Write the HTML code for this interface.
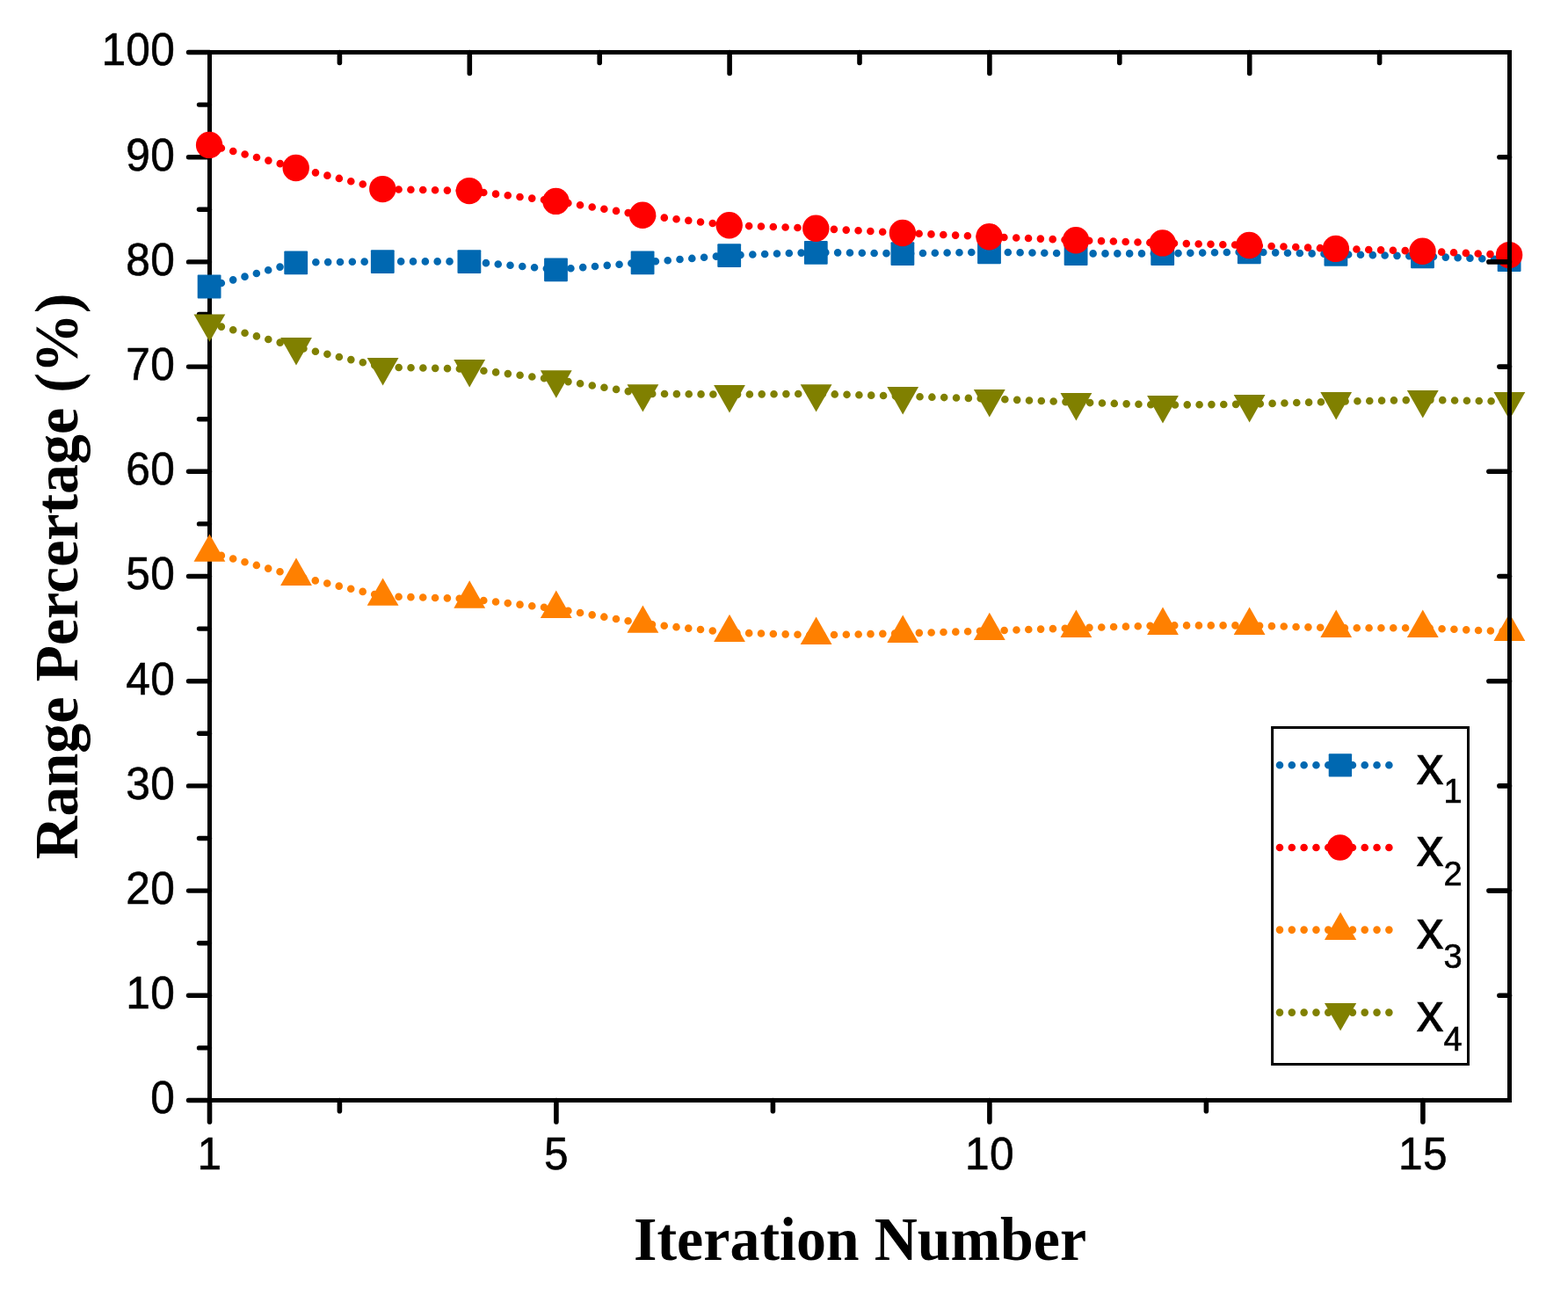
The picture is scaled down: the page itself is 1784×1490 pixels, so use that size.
<!DOCTYPE html>
<html lang="en"><head><meta charset="utf-8"><title>Range Percertage vs Iteration Number</title>
<style>html,body{margin:0;padding:0;background:#fff;}body{width:1784px;height:1490px;overflow:hidden;}svg{display:block;}.t{font-family:"Liberation Sans",sans-serif;font-size:49.6px;letter-spacing:0.25px;fill:#000;stroke:#000;stroke-width:0.55px;}.ax{font-family:"Liberation Serif",serif;font-weight:bold;font-size:67.95px;fill:#000;}.lg{font-family:"Liberation Sans",sans-serif;font-size:62.2px;fill:#000;stroke:#000;stroke-width:0.6px;}.sub{font-size:38px;}</style></head><body>
<svg width="1784" height="1490" viewBox="0 0 1784 1490">
<rect x="0" y="0" width="1784" height="1490" fill="#ffffff"/>
<g stroke="#000" stroke-width="5" fill="none" stroke-linecap="round">
<path stroke-linecap="square" d="M238.5 59.5 V1251.5 H1717.5"/>
<line stroke-width="5.4" x1="238.5" y1="1251.50" x2="214.5" y2="1251.50"/>
<line stroke-width="5.4" x1="238.5" y1="1191.90" x2="226.5" y2="1191.90"/>
<line stroke-width="5.4" x1="238.5" y1="1132.30" x2="214.5" y2="1132.30"/>
<line stroke-width="5.4" x1="238.5" y1="1072.70" x2="226.5" y2="1072.70"/>
<line stroke-width="5.4" x1="238.5" y1="1013.10" x2="214.5" y2="1013.10"/>
<line stroke-width="5.4" x1="238.5" y1="953.50" x2="226.5" y2="953.50"/>
<line stroke-width="5.4" x1="238.5" y1="893.90" x2="214.5" y2="893.90"/>
<line stroke-width="5.4" x1="238.5" y1="834.30" x2="226.5" y2="834.30"/>
<line stroke-width="5.4" x1="238.5" y1="774.70" x2="214.5" y2="774.70"/>
<line stroke-width="5.4" x1="238.5" y1="715.10" x2="226.5" y2="715.10"/>
<line stroke-width="5.4" x1="238.5" y1="655.50" x2="214.5" y2="655.50"/>
<line stroke-width="5.4" x1="238.5" y1="595.90" x2="226.5" y2="595.90"/>
<line stroke-width="5.4" x1="238.5" y1="536.30" x2="214.5" y2="536.30"/>
<line stroke-width="5.4" x1="238.5" y1="476.70" x2="226.5" y2="476.70"/>
<line stroke-width="5.4" x1="238.5" y1="417.10" x2="214.5" y2="417.10"/>
<line stroke-width="5.4" x1="238.5" y1="357.50" x2="226.5" y2="357.50"/>
<line stroke-width="5.4" x1="238.5" y1="297.90" x2="214.5" y2="297.90"/>
<line stroke-width="5.4" x1="238.5" y1="238.30" x2="226.5" y2="238.30"/>
<line stroke-width="5.4" x1="238.5" y1="178.70" x2="214.5" y2="178.70"/>
<line stroke-width="5.4" x1="238.5" y1="119.10" x2="226.5" y2="119.10"/>
<line stroke-width="5.4" x1="238.5" y1="59.50" x2="214.5" y2="59.50"/>
<line stroke-width="5.6" x1="238.50" y1="1251.5" x2="238.50" y2="1275.9"/>
<line stroke-width="5.6" x1="632.90" y1="1251.5" x2="632.90" y2="1275.9"/>
<line stroke-width="5.6" x1="1125.90" y1="1251.5" x2="1125.90" y2="1275.9"/>
<line stroke-width="5.6" x1="1618.90" y1="1251.5" x2="1618.90" y2="1275.9"/>
<line stroke-width="5.6" x1="386.40" y1="1251.5" x2="386.40" y2="1263.7"/>
<line stroke-width="5.6" x1="879.40" y1="1251.5" x2="879.40" y2="1263.7"/>
<line stroke-width="5.6" x1="1372.40" y1="1251.5" x2="1372.40" y2="1263.7"/>
</g>
<g>
<polyline points="238.5,325.7 337.1,298.5 435.7,297.4 534.3,297.4 632.9,306.6 731.5,298.5 830.1,290.4 928.7,287.0 1027.3,288.4 1125.9,286.6 1224.5,288.4 1323.1,288.4 1421.7,286.6 1520.3,289.1 1618.9,291.6 1717.5,295.4" fill="none" stroke="#0068b1" stroke-width="8.6" stroke-linecap="round" stroke-linejoin="round" stroke-dasharray="0 13.836"/>
<rect x="224.7" y="312.6" width="26.8" height="26.8" rx="1" fill="#0068b1"/>
<rect x="323.3" y="285.4" width="26.8" height="26.8" rx="1" fill="#0068b1"/>
<rect x="421.9" y="284.3" width="26.8" height="26.8" rx="1" fill="#0068b1"/>
<rect x="520.5" y="284.3" width="26.8" height="26.8" rx="1" fill="#0068b1"/>
<rect x="619.1" y="293.5" width="26.8" height="26.8" rx="1" fill="#0068b1"/>
<rect x="717.7" y="285.4" width="26.8" height="26.8" rx="1" fill="#0068b1"/>
<rect x="816.3" y="277.3" width="26.8" height="26.8" rx="1" fill="#0068b1"/>
<rect x="914.9" y="273.9" width="26.8" height="26.8" rx="1" fill="#0068b1"/>
<rect x="1013.5" y="275.3" width="26.8" height="26.8" rx="1" fill="#0068b1"/>
<rect x="1112.1" y="273.5" width="26.8" height="26.8" rx="1" fill="#0068b1"/>
<rect x="1210.7" y="275.3" width="26.8" height="26.8" rx="1" fill="#0068b1"/>
<rect x="1309.3" y="275.3" width="26.8" height="26.8" rx="1" fill="#0068b1"/>
<rect x="1407.9" y="273.5" width="26.8" height="26.8" rx="1" fill="#0068b1"/>
<rect x="1506.5" y="276.0" width="26.8" height="26.8" rx="1" fill="#0068b1"/>
<rect x="1605.1" y="278.5" width="26.8" height="26.8" rx="1" fill="#0068b1"/>
<rect x="1703.7" y="282.3" width="26.8" height="26.8" rx="1" fill="#0068b1"/>
<polyline points="238.5,164.9 337.1,191.0 435.7,215.1 534.3,217.1 632.9,228.9 731.5,244.8 830.1,256.3 928.7,259.8 1027.3,265.0 1125.9,269.3 1224.5,273.2 1323.1,276.4 1421.7,279.0 1520.3,282.9 1618.9,285.7 1717.5,290.1" fill="none" stroke="#ff0000" stroke-width="8.6" stroke-linecap="round" stroke-linejoin="round" stroke-dasharray="0 13.836"/>
<circle cx="238.1" cy="164.9" r="15.2" fill="#ff0000"/>
<circle cx="336.7" cy="191.0" r="15.2" fill="#ff0000"/>
<circle cx="435.3" cy="215.1" r="15.2" fill="#ff0000"/>
<circle cx="533.9" cy="217.1" r="15.2" fill="#ff0000"/>
<circle cx="632.5" cy="228.9" r="15.2" fill="#ff0000"/>
<circle cx="731.1" cy="244.8" r="15.2" fill="#ff0000"/>
<circle cx="829.7" cy="256.3" r="15.2" fill="#ff0000"/>
<circle cx="928.3" cy="259.8" r="15.2" fill="#ff0000"/>
<circle cx="1026.9" cy="265.0" r="15.2" fill="#ff0000"/>
<circle cx="1125.5" cy="269.3" r="15.2" fill="#ff0000"/>
<circle cx="1224.1" cy="273.2" r="15.2" fill="#ff0000"/>
<circle cx="1322.7" cy="276.4" r="15.2" fill="#ff0000"/>
<circle cx="1421.3" cy="279.0" r="15.2" fill="#ff0000"/>
<circle cx="1519.9" cy="282.9" r="15.2" fill="#ff0000"/>
<circle cx="1618.5" cy="285.7" r="15.2" fill="#ff0000"/>
<circle cx="1717.1" cy="290.1" r="15.2" fill="#ff0000"/>
<polyline points="238.5,628.2 337.1,655.4 435.7,678.2 534.3,681.1 632.9,692.4 731.5,709.2 830.1,719.5 928.7,722.4 1027.3,720.4 1125.9,717.5 1224.5,714.3 1323.1,711.4 1421.7,711.4 1520.3,714.3 1618.9,714.3 1717.5,718.4" fill="none" stroke="#ff8000" stroke-width="8.6" stroke-linecap="round" stroke-linejoin="round" stroke-dasharray="0 13.836"/>
<polygon points="220.5,638.8 256.3,638.8 238.4,607.4" fill="#ff8000"/>
<polygon points="319.1,666.0 354.9,666.0 337.0,634.6" fill="#ff8000"/>
<polygon points="417.7,688.8 453.5,688.8 435.6,657.4" fill="#ff8000"/>
<polygon points="516.3,691.7 552.1,691.7 534.2,660.3" fill="#ff8000"/>
<polygon points="614.9,703.0 650.7,703.0 632.8,671.6" fill="#ff8000"/>
<polygon points="713.5,719.8 749.3,719.8 731.4,688.4" fill="#ff8000"/>
<polygon points="812.1,730.1 847.9,730.1 830.0,698.7" fill="#ff8000"/>
<polygon points="910.7,733.0 946.5,733.0 928.6,701.6" fill="#ff8000"/>
<polygon points="1009.3,731.0 1045.1,731.0 1027.2,699.6" fill="#ff8000"/>
<polygon points="1107.9,728.1 1143.7,728.1 1125.8,696.7" fill="#ff8000"/>
<polygon points="1206.5,724.9 1242.3,724.9 1224.4,693.5" fill="#ff8000"/>
<polygon points="1305.1,722.0 1340.9,722.0 1323.0,690.6" fill="#ff8000"/>
<polygon points="1403.7,722.0 1439.5,722.0 1421.6,690.6" fill="#ff8000"/>
<polygon points="1502.3,724.9 1538.1,724.9 1520.2,693.5" fill="#ff8000"/>
<polygon points="1600.9,724.9 1636.7,724.9 1618.8,693.5" fill="#ff8000"/>
<polygon points="1699.5,729.0 1735.3,729.0 1717.4,697.6" fill="#ff8000"/>
<polyline points="238.5,368.0 337.1,394.6 435.7,417.6 534.3,419.7 632.9,431.9 731.5,447.8 830.1,448.7 928.7,447.8 1027.3,450.7 1125.9,453.6 1224.5,457.6 1323.1,460.6 1421.7,459.7 1520.3,456.7 1618.9,454.7 1717.5,456.7" fill="none" stroke="#808000" stroke-width="8.6" stroke-linecap="round" stroke-linejoin="round" stroke-dasharray="0 13.836"/>
<polygon points="220.5,357.4 256.3,357.4 238.4,388.8" fill="#808000"/>
<polygon points="319.1,384.0 354.9,384.0 337.0,415.4" fill="#808000"/>
<polygon points="417.7,407.0 453.5,407.0 435.6,438.4" fill="#808000"/>
<polygon points="516.3,409.1 552.1,409.1 534.2,440.5" fill="#808000"/>
<polygon points="614.9,421.3 650.7,421.3 632.8,452.7" fill="#808000"/>
<polygon points="713.5,437.2 749.3,437.2 731.4,468.6" fill="#808000"/>
<polygon points="812.1,438.1 847.9,438.1 830.0,469.5" fill="#808000"/>
<polygon points="910.7,437.2 946.5,437.2 928.6,468.6" fill="#808000"/>
<polygon points="1009.3,440.1 1045.1,440.1 1027.2,471.5" fill="#808000"/>
<polygon points="1107.9,443.0 1143.7,443.0 1125.8,474.4" fill="#808000"/>
<polygon points="1206.5,447.0 1242.3,447.0 1224.4,478.4" fill="#808000"/>
<polygon points="1305.1,450.0 1340.9,450.0 1323.0,481.4" fill="#808000"/>
<polygon points="1403.7,449.1 1439.5,449.1 1421.6,480.5" fill="#808000"/>
<polygon points="1502.3,446.1 1538.1,446.1 1520.2,477.5" fill="#808000"/>
<polygon points="1600.9,444.1 1636.7,444.1 1618.8,475.5" fill="#808000"/>
<polygon points="1699.5,446.1 1735.3,446.1 1717.4,477.5" fill="#808000"/>
</g>
<g stroke="#000" stroke-width="5" fill="none" stroke-linecap="round">
<path stroke-linecap="square" d="M238.5 59.5 H1717.5 V1251.5"/>
<line stroke-width="5.6" x1="534.30" y1="59.5" x2="534.30" y2="83.5"/>
<line stroke-width="5.6" x1="830.10" y1="59.5" x2="830.10" y2="83.5"/>
<line stroke-width="5.6" x1="1125.90" y1="59.5" x2="1125.90" y2="83.5"/>
<line stroke-width="5.6" x1="1421.70" y1="59.5" x2="1421.70" y2="83.5"/>
<line stroke-width="5.6" x1="386.40" y1="59.5" x2="386.40" y2="71.5"/>
<line stroke-width="5.6" x1="682.20" y1="59.5" x2="682.20" y2="71.5"/>
<line stroke-width="5.6" x1="978.00" y1="59.5" x2="978.00" y2="71.5"/>
<line stroke-width="5.6" x1="1273.80" y1="59.5" x2="1273.80" y2="71.5"/>
<line stroke-width="5.6" x1="1569.60" y1="59.5" x2="1569.60" y2="71.5"/>
<line stroke-width="5.6" x1="1717.5" y1="1132.30" x2="1705.9" y2="1132.30"/>
<line stroke-width="5.6" x1="1717.5" y1="1013.10" x2="1693.9" y2="1013.10"/>
<line stroke-width="5.6" x1="1717.5" y1="893.90" x2="1705.9" y2="893.90"/>
<line stroke-width="5.6" x1="1717.5" y1="774.70" x2="1693.9" y2="774.70"/>
<line stroke-width="5.6" x1="1717.5" y1="655.50" x2="1705.9" y2="655.50"/>
<line stroke-width="5.6" x1="1717.5" y1="536.30" x2="1693.9" y2="536.30"/>
<line stroke-width="5.6" x1="1717.5" y1="417.10" x2="1705.9" y2="417.10"/>
<line stroke-width="5.6" x1="1717.5" y1="297.90" x2="1693.9" y2="297.90"/>
<line stroke-width="5.6" x1="1717.5" y1="178.70" x2="1705.9" y2="178.70"/>
</g>
<g class="t" text-anchor="end">
<text transform="translate(199.0 1266.4) scale(1 1.05)">0</text>
<text transform="translate(199.0 1147.2) scale(1 1.05)">10</text>
<text transform="translate(199.0 1028.0) scale(1 1.05)">20</text>
<text transform="translate(199.0 908.8) scale(1 1.05)">30</text>
<text transform="translate(199.0 789.6) scale(1 1.05)">40</text>
<text transform="translate(199.0 670.4) scale(1 1.05)">50</text>
<text transform="translate(199.0 551.2) scale(1 1.05)">60</text>
<text transform="translate(199.0 432.0) scale(1 1.05)">70</text>
<text transform="translate(199.0 312.8) scale(1 1.05)">80</text>
<text transform="translate(199.0 193.6) scale(1 1.05)">90</text>
<text transform="translate(199.0 74.4) scale(1 1.05)">100</text>
</g>
<g class="t" text-anchor="middle">
<text transform="translate(238.5 1330.4) scale(1 1.05)">1</text>
<text transform="translate(632.9 1330.4) scale(1 1.05)">5</text>
<text transform="translate(1125.9 1330.4) scale(1 1.05)">10</text>
<text transform="translate(1618.9 1330.4) scale(1 1.05)">15</text>
</g>
<text class="ax" text-anchor="middle" transform="translate(978.6 1433.0) scale(1 1.02)">Iteration Number</text>
<text class="ax" text-anchor="middle" transform="translate(88.2 655.6) rotate(-90) scale(1 1.02)">Range Percertage (%)</text>
<rect x="1447.6" y="827.5" width="222.9" height="383" fill="#fff" stroke="#000" stroke-width="3"/>
<line x1="1456.0" y1="870.3" x2="1581.4" y2="870.3" stroke="#0068b1" stroke-width="8.6" stroke-linecap="round" stroke-dasharray="0 13.82"/>
<rect x="1511.7" y="857.2" width="26.4" height="26.4" rx="1" fill="#0068b1"/>
<text class="lg" x="1611.5" y="891.6">x<tspan class="sub" dy="21.6">1</tspan></text>
<line x1="1456.0" y1="964.0" x2="1581.4" y2="964.0" stroke="#ff0000" stroke-width="8.6" stroke-linecap="round" stroke-dasharray="0 13.82"/>
<circle cx="1524.7" cy="964.0" r="14.8" fill="#ff0000"/>
<text class="lg" x="1611.5" y="985.3">x<tspan class="sub" dy="21.6">2</tspan></text>
<line x1="1456.0" y1="1057.6" x2="1581.4" y2="1057.6" stroke="#ff8000" stroke-width="8.6" stroke-linecap="round" stroke-dasharray="0 13.82"/>
<polygon points="1507.0,1069.0 1543.2,1069.0 1525.1,1037.6" fill="#ff8000"/>
<text class="lg" x="1611.5" y="1078.9">x<tspan class="sub" dy="21.6">3</tspan></text>
<line x1="1456.0" y1="1151.6" x2="1581.4" y2="1151.6" stroke="#808000" stroke-width="8.6" stroke-linecap="round" stroke-dasharray="0 13.82"/>
<polygon points="1507.0,1141.0 1543.2,1141.0 1525.1,1172.4" fill="#808000"/>
<text class="lg" x="1611.5" y="1172.9">x<tspan class="sub" dy="21.6">4</tspan></text>
</svg>
</body></html>
